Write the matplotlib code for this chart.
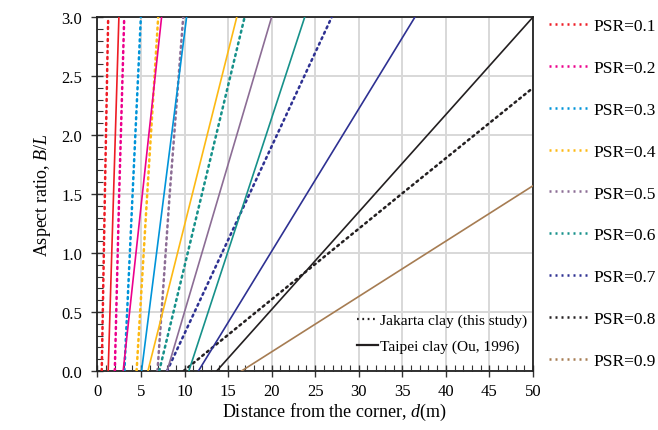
import matplotlib
matplotlib.use("Agg")
import matplotlib.pyplot as plt
from matplotlib.lines import Line2D
from matplotlib.ticker import MultipleLocator, FormatStrFormatter

plt.rcParams['font.family'] = ['Liberation Serif', 'DejaVu Serif']
plt.rcParams['mathtext.fontset'] = 'custom'
plt.rcParams['mathtext.rm'] = 'Liberation Serif'
plt.rcParams['mathtext.it'] = 'Liberation Serif:italic'

psr_labels = ['PSR=0.1', 'PSR=0.2', 'PSR=0.3', 'PSR=0.4', 'PSR=0.5',
              'PSR=0.6', 'PSR=0.7', 'PSR=0.8', 'PSR=0.9']
colors = ['#ee1c25', '#ec008c', '#0094d9', '#fdb913', '#8c6d95',
          '#16918a', '#2e3192', '#231f20', '#a67c52']

# Jakarta clay (this study): distance d read at B/L levels
jak_bl = [
    [0.0, 1.5, 3.0],
    [0.0, 1.5, 3.0],
    [0.0, 1.5, 3.0],
    [0.0, 1.5, 3.0],
    [0.0, 1.5, 3.0],
    [0.0, 1.5, 3.0],
    [0.0, 1.5, 3.0],
    [0.0, 1.5, 2.40],
]
jak_d = [
    [0.5, 0.86, 1.24],
    [2.0, 2.5, 3.08],
    [3.1, 4.04, 4.99],
    [4.5, 5.72, 6.98],
    [6.9, 8.3, 9.85],
    [7.1, 12.0, 16.9],
    [8.0, 17.46, 26.9],
    [9.9, 34.9, 50.0],
]

# Taipei clay (Ou, 1996)
tpe_bl = [
    [0.0, 3.0], [0.0, 3.0], [0.0, 3.0], [0.0, 3.0], [0.0, 3.0],
    [0.0, 3.0], [0.0, 3.0], [0.0, 3.0], [0.0, 1.57],
]
tpe_d = [
    [1.24, 2.47], [2.96, 7.37], [5.07, 10.24], [5.8, 16.0], [8.0, 20.0],
    [10.5, 23.8], [11.6, 36.45], [13.7, 50.0], [16.55, 50.0],
]

dots = (0, (0.8, 1.6))

fig = plt.figure(figsize=(6.58, 4.31), dpi=100)
ax = fig.add_axes([0.148, 0.137, 0.662, 0.821])

for i in range(len(jak_d)):
    ax.plot(jak_d[i], jak_bl[i], color=colors[i], lw=1.8, ls=dots,
            dash_capstyle='round', zorder=3)
for i in range(len(tpe_d)):
    ax.plot(tpe_d[i], tpe_bl[i], color=colors[i], lw=1.2, zorder=3)

ax.set_xlim(0, 50)
ax.set_ylim(0, 3.0)
ax.xaxis.set_major_locator(MultipleLocator(5))
ax.xaxis.set_minor_locator(MultipleLocator(1))
ax.yaxis.set_major_locator(MultipleLocator(0.5))
ax.yaxis.set_minor_locator(MultipleLocator(0.1))
ax.yaxis.set_major_formatter(FormatStrFormatter('%.1f'))
ax.tick_params(which='major', direction='inout', length=8, width=1.0,
               labelsize=12, color='#333333')
ax.tick_params(axis='y', which='major', pad=7)
ax.tick_params(axis='x', which='major', pad=5)
ax.tick_params(which='minor', direction='in', length=4, width=0.8,
               color='#333333')
ax.grid(True, which='major', color='#d8d8d8', lw=1.4, zorder=0)
ax.set_axisbelow(True)
for s in ax.spines.values():
    s.set_linewidth(1.3)
    s.set_color('#222222')

ax.set_xlabel('Distance from the corner, $d$(m)', fontsize=13)
ax.xaxis.set_label_coords(0.545, -0.085)
ax.set_ylabel('Aspect ratio, $B/L$', fontsize=13, labelpad=6)

inner = [Line2D([], [], color='#231f20', lw=1.6, ls=dots),
         Line2D([], [], color='#231f20', lw=1.6)]
ax.legend(inner, ['Jakarta clay (this study)', 'Taipei clay (Ou, 1996)'],
          loc='lower right', frameon=False, fontsize=11.1, handlelength=1.35,
          handletextpad=0.13, labelspacing=0.8, borderaxespad=0.0,
          bbox_to_anchor=(1.0, 0.032))

outer = [Line2D([], [], color=c, lw=1.8, ls=dots) for c in colors]
fig.legend(outer, psr_labels, loc='upper left', bbox_to_anchor=(0.824, 0.972),
           frameon=False, fontsize=12.5, handlelength=2.25, handletextpad=0.29,
           labelspacing=1.48, borderaxespad=0)

fig.savefig('out.png', dpi=100)
